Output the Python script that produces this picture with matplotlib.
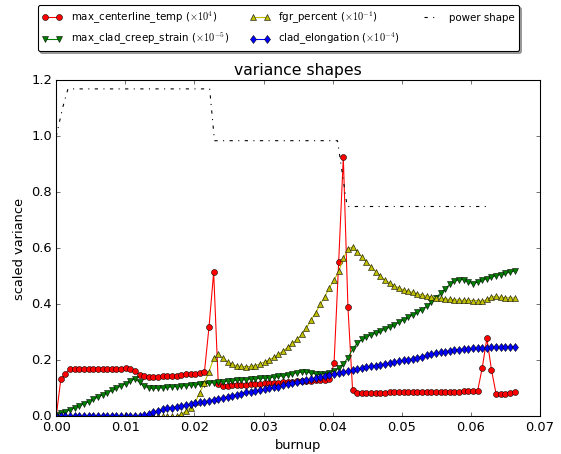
import matplotlib
matplotlib.use('Agg')
import matplotlib.pyplot as plt

plt.style.use('classic')

# burnup at each output step
burnup = [
    0.00000, 0.00067, 0.00134, 0.00201, 0.00268, 0.00335, 0.00402, 0.00469, 0.00536, 0.00603,
    0.00670, 0.00737, 0.00804, 0.00871, 0.00938, 0.01005, 0.01072, 0.01139, 0.01206, 0.01273,
    0.01340, 0.01407, 0.01474, 0.01541, 0.01608, 0.01675, 0.01742, 0.01809, 0.01876, 0.01943,
    0.02010, 0.02077, 0.02144, 0.02211, 0.02278, 0.02345, 0.02412, 0.02479, 0.02546, 0.02613,
    0.02680, 0.02747, 0.02814, 0.02881, 0.02948, 0.03015, 0.03082, 0.03149, 0.03216, 0.03283,
    0.03350, 0.03417, 0.03484, 0.03551, 0.03618, 0.03685, 0.03752, 0.03819, 0.03886, 0.03953,
    0.04020, 0.04087, 0.04154, 0.04221, 0.04288, 0.04355, 0.04422, 0.04489, 0.04556, 0.04623,
    0.04690, 0.04757, 0.04824, 0.04891, 0.04958, 0.05025, 0.05092, 0.05159, 0.05226, 0.05293,
    0.05360, 0.05427, 0.05494, 0.05561, 0.05628, 0.05695, 0.05762, 0.05829, 0.05896, 0.05963,
    0.06030, 0.06097, 0.06164, 0.06231, 0.06298, 0.06365, 0.06432, 0.06499, 0.06566, 0.06633]

centerline_temp = [
    0.000, 0.134, 0.153, 0.170, 0.171, 0.170, 0.170, 0.169, 0.169, 0.169,
    0.169, 0.170, 0.170, 0.170, 0.171, 0.172, 0.170, 0.162, 0.147, 0.143,
    0.141, 0.141, 0.142, 0.143, 0.144, 0.145, 0.146, 0.148, 0.150, 0.151,
    0.153, 0.155, 0.158, 0.320, 0.515, 0.115, 0.110, 0.110, 0.111, 0.112,
    0.113, 0.114, 0.115, 0.116, 0.117, 0.118, 0.119, 0.120, 0.121, 0.122,
    0.123, 0.124, 0.125, 0.126, 0.127, 0.128, 0.129, 0.130, 0.131, 0.133,
    0.190, 0.553, 0.926, 0.390, 0.095, 0.084, 0.084, 0.084, 0.085, 0.085,
    0.085, 0.085, 0.086, 0.086, 0.086, 0.086, 0.087, 0.087, 0.087, 0.087,
    0.088, 0.088, 0.088, 0.088, 0.089, 0.089, 0.089, 0.089, 0.090, 0.090,
    0.090, 0.091, 0.174, 0.279, 0.166, 0.080, 0.081, 0.082, 0.084, 0.086]

clad_creep_strain = [
    0.005, 0.011, 0.017, 0.024, 0.031, 0.038, 0.045, 0.053, 0.061, 0.069,
    0.077, 0.085, 0.093, 0.101, 0.109, 0.117, 0.126, 0.135, 0.122, 0.108,
    0.102, 0.100, 0.101, 0.103, 0.104, 0.106, 0.107, 0.109, 0.110, 0.112,
    0.113, 0.115, 0.117, 0.119, 0.121, 0.123, 0.124, 0.125, 0.127, 0.129,
    0.130, 0.132, 0.134, 0.135, 0.136, 0.137, 0.139, 0.141, 0.143, 0.145,
    0.148, 0.152, 0.157, 0.158, 0.159, 0.155, 0.152, 0.151, 0.153, 0.157,
    0.163, 0.172, 0.188, 0.210, 0.240, 0.262, 0.275, 0.285, 0.291, 0.297,
    0.304, 0.311, 0.319, 0.327, 0.336, 0.345, 0.354, 0.362, 0.372, 0.382,
    0.394, 0.408, 0.424, 0.440, 0.456, 0.472, 0.484, 0.488, 0.489, 0.480,
    0.474, 0.480, 0.486, 0.492, 0.497, 0.503, 0.507, 0.511, 0.515, 0.520]

fgr_percent = [
    0.000, 0.000, 0.000, 0.000, 0.000, 0.000, 0.000, 0.000, 0.000, 0.000,
    0.000, 0.000, 0.000, 0.000, 0.000, 0.000, 0.000, 0.000, 0.000, 0.000,
    0.000, 0.000, 0.000, 0.000, 0.000, 0.000, 0.000, 0.008, 0.018, 0.032,
    0.050, 0.085, 0.121, 0.160, 0.208, 0.222, 0.208, 0.195, 0.186, 0.181,
    0.179, 0.178, 0.179, 0.182, 0.188, 0.195, 0.203, 0.211, 0.222, 0.234,
    0.247, 0.261, 0.276, 0.293, 0.316, 0.343, 0.370, 0.400, 0.428, 0.460,
    0.487, 0.518, 0.565, 0.598, 0.606, 0.589, 0.570, 0.553, 0.535, 0.517,
    0.502, 0.487, 0.477, 0.467, 0.459, 0.452, 0.447, 0.443, 0.438, 0.434,
    0.430, 0.427, 0.424, 0.422, 0.420, 0.418, 0.417, 0.416, 0.415, 0.415,
    0.414, 0.414, 0.411, 0.418, 0.427, 0.429, 0.425, 0.424, 0.424, 0.423]

clad_elongation = [
    0.000, 0.000, 0.000, 0.000, 0.000, 0.000, 0.000, 0.000, 0.000, 0.000,
    0.000, 0.000, 0.000, 0.000, 0.000, 0.000, 0.000, 0.000, 0.000, 0.004,
    0.010, 0.015, 0.020, 0.025, 0.029, 0.032, 0.035, 0.038, 0.041, 0.044,
    0.047, 0.050, 0.053, 0.056, 0.060, 0.063, 0.066, 0.070, 0.074, 0.078,
    0.082, 0.086, 0.089, 0.092, 0.095, 0.098, 0.101, 0.104, 0.107, 0.111,
    0.115, 0.119, 0.123, 0.126, 0.129, 0.133, 0.136, 0.140, 0.143, 0.147,
    0.151, 0.155, 0.159, 0.163, 0.166, 0.170, 0.173, 0.176, 0.179, 0.182,
    0.185, 0.188, 0.191, 0.194, 0.197, 0.200, 0.203, 0.206, 0.210, 0.214,
    0.218, 0.222, 0.226, 0.229, 0.232, 0.235, 0.237, 0.239, 0.241, 0.242,
    0.243, 0.244, 0.245, 0.246, 0.247, 0.247, 0.248, 0.248, 0.249, 0.249]

# relative power history
power_burnup = [0.0, 0.0009, 0.0017, 0.0222, 0.0229, 0.0407, 0.0421, 0.0622]
power_shape = [1.0, 1.10, 1.17, 1.17, 0.985, 0.985, 0.75, 0.75]

DPI = 78
fig = plt.figure(figsize=(561. / DPI, 454. / DPI), dpi=DPI)
ax = fig.add_axes([0.1002, 0.0826, 0.8624, 0.7401])

ax.plot(burnup, centerline_temp, 'r-o', markersize=5.5,
        label=r'max_centerline_temp ($\times10^{4}$)')
ax.plot(burnup, clad_creep_strain, 'g-v', markersize=5.5,
        label=r'max_clad_creep_strain ($\times10^{-5}$)')
ax.plot(burnup, fgr_percent, 'y-^', markersize=5.5,
        label=r'fgr_percent ($\times10^{-1}$)')
ax.plot(burnup, clad_elongation, 'b-d', markersize=5.5,
        label=r'clad_elongation ($\times10^{-4}$)')
ax.plot(power_burnup, power_shape, 'k-.', label='power shape')

ax.set_xlim(0, 0.07)
ax.set_ylim(0, 1.2)
ax.set_xlabel('burnup')
ax.set_ylabel('scaled variance')
ax.set_title('variance shapes')

ax.legend(loc='upper center', bbox_to_anchor=(0.4965, 1.0),
          bbox_transform=fig.transFigure, ncol=3, fontsize=9.5,
          shadow=True, fancybox=True)

fig.savefig('out.png', dpi=DPI)
